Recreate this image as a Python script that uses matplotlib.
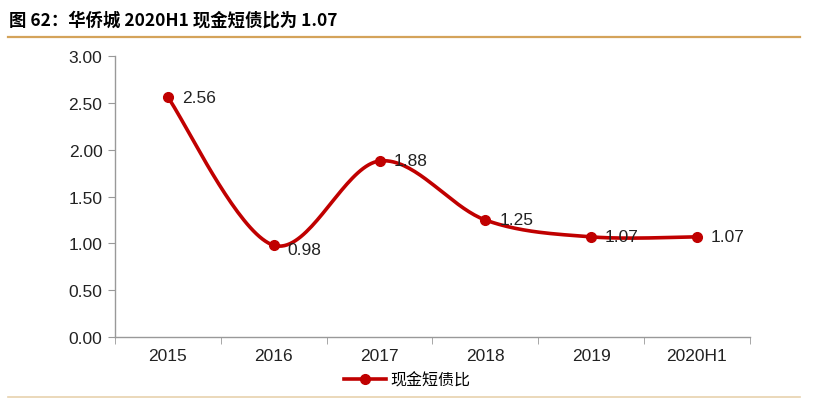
import numpy as np
import matplotlib.pyplot as plt
from matplotlib.lines import Line2D

plt.rcParams['font.family'] = ['Liberation Sans', 'Noto Sans CJK SC', 'DejaVu Sans']

years = ['2015', '2016', '2017', '2018', '2019', '2020H1']
ratio = [2.56, 0.98, 1.88, 1.25, 1.07, 1.07]
labels = ['2.56', '0.98', '1.88', '1.25', '1.07', '1.07']

red = '#C00000'


def smooth(xs, ys, n=40):
    # excel-like bezier smoothing through the points
    pts = np.column_stack([xs, ys]).astype(float)
    out = []
    for i in range(len(pts) - 1):
        p0 = pts[i - 1] if i > 0 else pts[i]
        p1 = pts[i]
        p2 = pts[i + 1]
        p3 = pts[i + 2] if i + 2 < len(pts) else pts[i + 1]
        c1 = p1 + (p2 - p0) / 6
        c2 = p2 - (p3 - p1) / 6
        t = np.linspace(0, 1, n)[:, None]
        seg = ((1 - t) ** 3) * p1 + 3 * ((1 - t) ** 2) * t * c1 + 3 * (1 - t) * t ** 2 * c2 + t ** 3 * p2
        out.append(seg if i == 0 else seg[1:])
    out = np.vstack(out)
    return out[:, 0], out[:, 1]


fig = plt.figure(figsize=(8.15, 4.02), dpi=100)
ax = fig.add_axes([0.1411, 0.159, 0.779, 0.699])

x = np.arange(len(years))
sx, sy = smooth(x, ratio)
ax.plot(sx, sy, color=red, lw=2.6, solid_capstyle='round')
ax.plot(x, ratio, 'o', color=red, ms=7)

for i, (xi, yi) in enumerate(zip(x, ratio)):
    dy = -0.05 if i == 1 else 0
    ax.annotate(labels[i], (xi, yi + dy), xytext=(10, 0), textcoords='offset points',
                va='center', ha='left', fontsize=12.5, color='#222222')

ax.set_xlim(-0.5, len(years) - 0.5)
ax.set_ylim(0, 3.0)
ax.set_yticks(np.arange(0, 3.01, 0.5))
ax.set_yticklabels([f'{v:.2f}' for v in np.arange(0, 3.01, 0.5)])
ax.set_xticks(x)
ax.set_xticklabels(years)
ax.set_xticks(np.arange(-0.5, len(years), 1), minor=True)
ax.tick_params(axis='x', which='major', length=0, pad=8, labelsize=12.5, colors='#222222')
ax.tick_params(axis='x', which='minor', length=5, color='#999999', direction='out')
ax.tick_params(axis='y', length=5, color='#999999', labelsize=12.5, colors='#222222', pad=4)
for s in ['top', 'right']:
    ax.spines[s].set_visible(False)
for s in ['left', 'bottom']:
    ax.spines[s].set_color('#999999')
    ax.spines[s].set_linewidth(1)

handle = Line2D([], [], color=red, lw=2.6, marker='o', ms=7)
fig.legend([handle], ['现金短债比'], loc='center', bbox_to_anchor=(0.5, 0.053),
           frameon=False, handlelength=2.6, handletextpad=0.3,
           prop={'family': ['Noto Sans CJK SC'], 'size': 11.5})

fig.text(0.011, 0.95, '图 62：华侨城 2020H1 现金短债比为 1.07', fontsize=12.5, fontweight='bold',
         va='center', ha='left', family=['Noto Sans CJK SC', 'DejaVu Sans'])
fig.add_artist(Line2D([0.01, 0.982], [0.905, 0.905], color='#D4A35A', lw=1.6))
fig.add_artist(Line2D([0.01, 0.982], [0.01, 0.01], color='#E8D2AE', lw=1.2))

fig.savefig('out.png', dpi=100)
